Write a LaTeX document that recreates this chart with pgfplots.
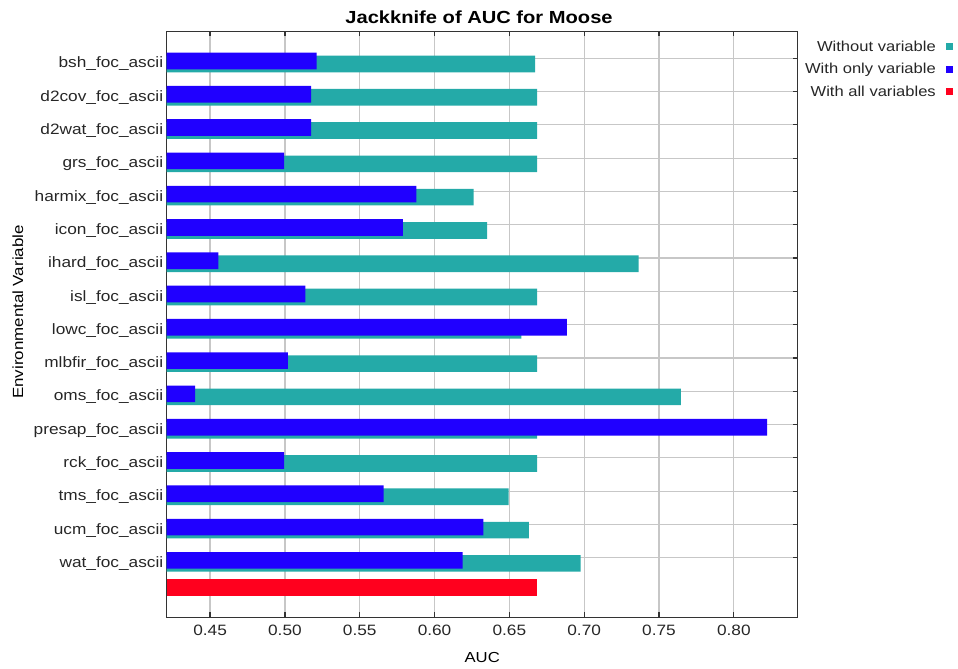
\documentclass[border=0pt]{standalone}
\usepackage{fontspec}
\setmainfont{Liberation Sans}[FakeStretch=1.15]
\usepackage{pgfplots}
\usepackage{pgfplotstable}
\pgfplotsset{compat=1.18}
\definecolor{tealc}{RGB}{36,170,168}
\definecolor{bluec}{RGB}{32,0,255}
\definecolor{redc}{RGB}{255,0,30}

\pgfplotstableread{
y x
0.08 0.5212
1.08 0.5175
2.08 0.5175
3.08 0.4994
4.08 0.5878
5.08 0.5789
6.08 0.4555
7.08 0.5136
8.08 0.6885
9.08 0.5020
10.08 0.4400
11.08 0.8222
12.08 0.4995
13.08 0.5659
14.08 0.6326
15.08 0.6188
}\onlyvar

\pgfplotstableread{
y x
0.17 0.6673
1.17 0.6685
2.17 0.6685
3.17 0.6685
4.17 0.6261
5.17 0.6352
6.17 0.7364
7.17 0.6685
8.17 0.6581
9.17 0.6685
10.17 0.7646
11.17 0.6685
12.17 0.6685
13.17 0.6495
14.17 0.6631
15.17 0.6976
}\withoutvar

\pgfplotstableread{
y x
15.9 0.6686
}\allvar

\begin{document}
\begin{tikzpicture}
\begin{axis}[
  name=ax,
  scale only axis,
  width=631bp, height=586.3bp,
  xmin=0.421, xmax=0.8427,
  ymin=-0.82, ymax=16.79,
  y dir=reverse,
  xbar, bar width=0.5, bar shift=0pt,
  xtick={0.45,0.50,...,0.80},
  xticklabels={0.45,0.50,0.55,0.60,0.65,0.70,0.75,0.80},
  ytick={0,...,15},
  yticklabels={bsh\_foc\_ascii,d2cov\_foc\_ascii,d2wat\_foc\_ascii,grs\_foc\_ascii,harmix\_foc\_ascii,icon\_foc\_ascii,ihard\_foc\_ascii,isl\_foc\_ascii,lowc\_foc\_ascii,mlbfir\_foc\_ascii,oms\_foc\_ascii,presap\_foc\_ascii,rck\_foc\_ascii,tms\_foc\_ascii,ucm\_foc\_ascii,wat\_foc\_ascii},
  yticklabel style={yshift=-5.7bp, font=\fontsize{15bp}{17bp}\selectfont, text=black!85},
  xticklabel style={yshift=-4bp, font=\fontsize{15bp}{17bp}\selectfont, text=black!85},
  /pgf/number format/assume math mode=true,
  tick align=inside,
  major tick length=5bp,
  tick style={black!80, line width=1.2bp},
  xmajorgrids, ymajorgrids,
  major grid style={black!22, line width=1.2bp},
  axis line style={black!80, line width=1bp},
  title={Jackknife of AUC for Moose},
  title style={font=\bfseries\fontsize{17.5bp}{20bp}\selectfont, at={(axis description cs:0.495,1)}, anchor=south, inner sep=0pt, yshift=1.5bp},
  xlabel={AUC},
  xlabel style={font=\fontsize{14.5bp}{17bp}\selectfont, at={(axis description cs:0.5,-0.0694)}, anchor=center},
  ylabel={Environmental Variable},
  ylabel style={font=\fontsize{14.7bp}{17bp}\selectfont, at={(axis description cs:-0.2357,0.5207)}, anchor=center},
  legend image code/.code={\path[fill=none, draw=none] (0bp,-3.5bp) rectangle (15bp,3.5bp); \fill[#1] (8bp,-3.5bp) rectangle (15bp,3.5bp);},
  legend plot pos=right,
  legend cell align=right,
  legend style={at={(axis description cs:1.2461,0.987)}, anchor=north east, draw=none, fill=none, inner sep=0pt, row sep=6.5bp, font=\fontsize{14.4bp}{17bp}\selectfont, text=black!85},
]
\addplot[forget plot, fill=tealc, draw=none, bar shift=0pt] table[x=x, y=y] {\withoutvar};
\addplot[forget plot, fill=bluec, draw=none, bar shift=0pt] table[x=x, y=y] {\onlyvar};
\addplot[forget plot, fill=redc, draw=none, bar shift=0pt] table[x=x, y=y] {\allvar};
\addlegendimage{fill=tealc, draw=none}
\addlegendentry{Without variable}
\addlegendimage{fill=bluec, draw=none}
\addlegendentry{With only variable}
\addlegendimage{fill=redc, draw=none}
\addlegendentry{With all variables}
\end{axis}
\pgfresetboundingbox
\path[use as bounding box] ([xshift=-166.7bp,yshift=-51.7bp]ax.south west) rectangle ++(958bp,669bp);
\end{tikzpicture}
\end{document}
